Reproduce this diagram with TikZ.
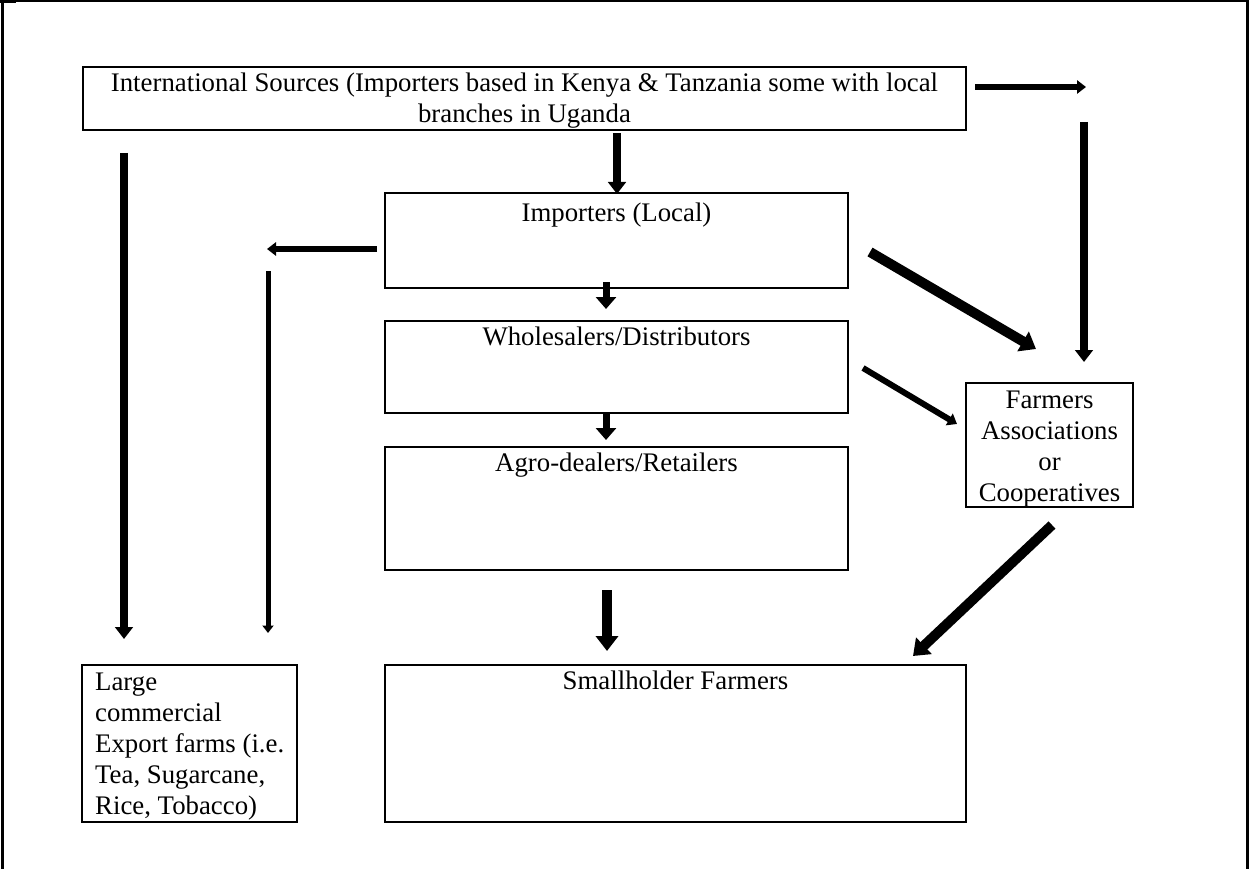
\documentclass[tikz,border=0pt]{standalone}
\usepackage{fontspec}
\setmainfont{Liberation Serif}
\usetikzlibrary{arrows.meta}
\begin{document}
\begin{tikzpicture}[x=1pt,y=-1pt,
  every node/.style={font=\fontsize{26.8}{31}\selectfont},
  box/.style 2 args={draw, line width=1.6pt, inner sep=0pt, outer sep=0pt,
    minimum width=#1, minimum height=#2},
  lab/.style={inner sep=0pt, anchor=north, align=center, yshift=#1},
  arr/.style={line width=#1, -{Triangle[length=0pt 1.5, width=0pt 2.2]}},
  stub/.style={line width=7pt, -{Triangle[length=12pt, width=20pt]}}
]
\useasboundingbox (0,0) rectangle (1249,869);

% page frame (open at the bottom)
\draw[line width=3pt] (2,869) -- (2,1) -- (1247.5,1) -- (1247.5,869);
\fill (0,0) rectangle (16,3);

% boxes
\node[box={883pt}{63pt},
  label={[lab=-6pt]north:{International Sources (Importers based in Kenya \& Tanzania some with local\\branches in Uganda}}]
  (intl) at (524.5,98.5) {};
\node[box={463pt}{95pt}, label={[lab=-10pt]north:{Importers (Local)}}]
  (imp) at (616.5,240.5) {};
\node[box={463pt}{92pt}, label={[lab=-6pt]north:{Wholesalers/Distributors}}]
  (whole) at (616.5,367) {};
\node[box={463pt}{123pt}, label={[lab=-6pt]north:{Agro-dealers/Retailers}}]
  (agro) at (616.5,508.5) {};
\node[box={581pt}{157pt}, label={[lab=-6pt]north:{Smallholder Farmers}}]
  (small) at (675.5,743.5) {};
\node[box={215pt}{157pt},
  label={[inner sep=0pt, anchor=north west, align=left, xshift=13pt, yshift=-8pt]north west:{Large\\commercial\\Export farms (i.e.\\Tea, Sugarcane,\\Rice, Tobacco)}}]
  (large) at (189.5,743.5) {};
\node[box={167pt}{124pt},
  label={[lab=-8pt]north:{Farmers\\Associations\\or\\Cooperatives}}]
  (farm) at (1049.5,445) {};

% free ends of the connectors
\coordinate (r0) at (975,87);
\coordinate (r1) at (1086,87);
\coordinate (d0) at (1084,122);
\coordinate (d1) at (1084,362);
\coordinate (l0) at (124,153);
\coordinate (l1) at (124,639);
\coordinate (t0) at (617,133);
\coordinate (t1) at (617,194);
\coordinate (h0) at (377,249);
\coordinate (h1) at (267,249);
\coordinate (v0) at (268,271);
\coordinate (v1) at (268,633);
\coordinate (s0) at (606,282);
\coordinate (s1) at (606,309);
\coordinate (w0) at (606,413);
\coordinate (w1) at (606,440);
\coordinate (g0) at (607,590);
\coordinate (g1) at (607,651);
\coordinate (i0) at (870,252);
\coordinate (i1) at (1036,349);
\coordinate (o0) at (863,368);
\coordinate (o1) at (957,424);
\coordinate (f0) at (1052,525);
\coordinate (f1) at (913,656);

% connectors
\draw[arr=6pt] (r0) -- (r1);
\draw[arr=8pt] (d0) -- (d1);
\draw[arr=8pt] (l0) -- (l1);
\draw[arr=8pt] (t0) -- (t1);
\draw[arr=6pt] (h0) -- (h1);
\draw[arr=5pt] (v0) -- (v1);
\draw[stub] (s0) -- (s1);
\draw[stub] (w0) -- (w1);
\draw[arr=10pt] (g0) -- (g1);
\draw[arr=10pt] (i0) -- (i1);
\draw[arr=6pt] (o0) -- (o1);
\draw[arr=10pt] (f0) -- (f1);
\end{tikzpicture}
\end{document}
